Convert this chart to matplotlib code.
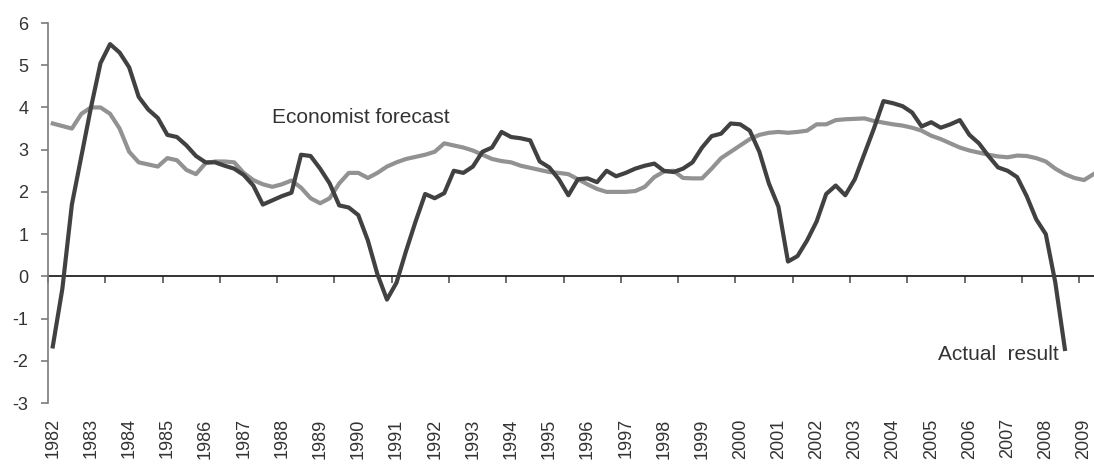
import matplotlib
matplotlib.use("Agg")
import matplotlib.pyplot as plt
import numpy as np

plt.rcParams['font.family'] = ['Liberation Sans', 'DejaVu Sans']

years = [str(y) for y in range(1982, 2010)]

actual = [-1.66, -0.3, 1.7, 2.85, 4.0, 5.05, 5.5, 5.3, 4.95, 4.25,
          3.95, 3.75, 3.35, 3.3, 3.1, 2.85, 2.7, 2.7, 2.62, 2.55,
          2.4, 2.15, 1.7, 1.8, 1.9, 1.98, 2.88, 2.85, 2.55, 2.2,
          1.68, 1.63, 1.45, 0.85, 0.05, -0.55, -0.15, 0.6, 1.3, 1.95,
          1.85, 1.97, 2.5, 2.45, 2.6, 2.95, 3.05, 3.42, 3.3, 3.27,
          3.22, 2.72, 2.58, 2.3, 1.92, 2.3, 2.32, 2.23, 2.5, 2.37,
          2.45, 2.55, 2.62, 2.67, 2.5, 2.47, 2.55, 2.7, 3.05, 3.32,
          3.38, 3.62, 3.6, 3.45, 2.95, 2.2, 1.65, 0.35, 0.48, 0.85,
          1.3, 1.95, 2.15, 1.92, 2.3, 2.9, 3.5, 4.15, 4.1, 4.03,
          3.88, 3.55, 3.65, 3.52, 3.6, 3.7, 3.35, 3.15, 2.85, 2.58,
          2.5, 2.35, 1.9, 1.35, 1.0, -0.15, -1.72]

forecast = [3.62, 3.56, 3.5, 3.85, 4.0, 4.0, 3.85, 3.5, 2.95, 2.7,
            2.65, 2.6, 2.8, 2.75, 2.52, 2.42, 2.68, 2.72, 2.72, 2.7,
            2.45, 2.28, 2.18, 2.12, 2.18, 2.27, 2.1, 1.85, 1.73, 1.85,
            2.2, 2.45, 2.45, 2.33, 2.45, 2.6, 2.7, 2.78, 2.83, 2.88,
            2.95, 3.15, 3.1, 3.05, 2.98, 2.88, 2.78, 2.73, 2.7, 2.62,
            2.57, 2.52, 2.47, 2.45, 2.42, 2.3, 2.18, 2.07, 2.0, 2.0,
            2.0, 2.02, 2.12, 2.35, 2.48, 2.5, 2.33, 2.32, 2.32, 2.55,
            2.8, 2.95, 3.1, 3.25, 3.35, 3.4, 3.42, 3.4, 3.42, 3.45,
            3.6, 3.6, 3.7, 3.72, 3.73, 3.74, 3.68, 3.64, 3.6, 3.57,
            3.52, 3.45, 3.33, 3.25, 3.15, 3.05, 2.98, 2.93, 2.88, 2.84,
            2.82, 2.86, 2.85, 2.8, 2.72, 2.55, 2.42, 2.33, 2.28, 2.42]

y_ticks = [6, 5, 4, 3, 2, 1, 0, -1, -2, -3]
y_labels = ["6", "5", "4", "3", "2", "1", "0", "-1", "-2", "-3"]

W, H = 1094, 465
fig = plt.figure(figsize=(W / 100, H / 100), dpi=100)
left_px, top_px, bot_px = 48, 23, 403
ax = fig.add_axes([left_px / W, (H - bot_px) / H, 1 - left_px / W, (bot_px - top_px) / H])

xa = np.arange(len(actual))
xf = np.arange(len(forecast))
ax.plot(xf, forecast, color='#929292', lw=3.0, solid_joinstyle='round', zorder=3)
ax.plot(xa, actual, color='#414141', lw=3.0, solid_joinstyle='round', zorder=4)

ax.set_xlim(-0.5, 109.05)
ax.set_ylim(-3, 6)

for s in ['top', 'right', 'bottom']:
    ax.spines[s].set_visible(False)
ax.spines['left'].set_color('#7a7a7a')
ax.spines['left'].set_linewidth(1.2)

ax.set_yticks(y_ticks)
ax.set_yticklabels(y_labels)
ax.tick_params(axis='y', direction='out', length=5, width=1.2, color='#7a7a7a',
               pad=9, labelsize=13, labelcolor='#333333')

# year labels at bottom
ax.set_xticks(np.arange(0, len(years) * 4, 4))
ax.set_xticklabels(years, rotation=90, va='top', ha='center')
ax.tick_params(axis='x', length=0, pad=11, labelsize=13, labelcolor='#333333')

# zero axis with tick marks every 6 quarters
sec = ax.secondary_xaxis(3 / 9)
sec.spines['bottom'].set_color('#222222')
sec.spines['bottom'].set_linewidth(1.3)
sec.set_xticks(np.arange(-0.5, 110, 6))
sec.set_xticklabels([])
sec.tick_params(axis='x', direction='out', length=5, width=1.2, color='#555555')

ax.text(22.95, 3.77, "Economist forecast", fontsize=15, color='#333333',
        va='center', ha='left')
ax.text(92.7, -1.85, "Actual  result", fontsize=15, color='#333333',
        va='center', ha='left')

fig.savefig("out.png", dpi=100)
